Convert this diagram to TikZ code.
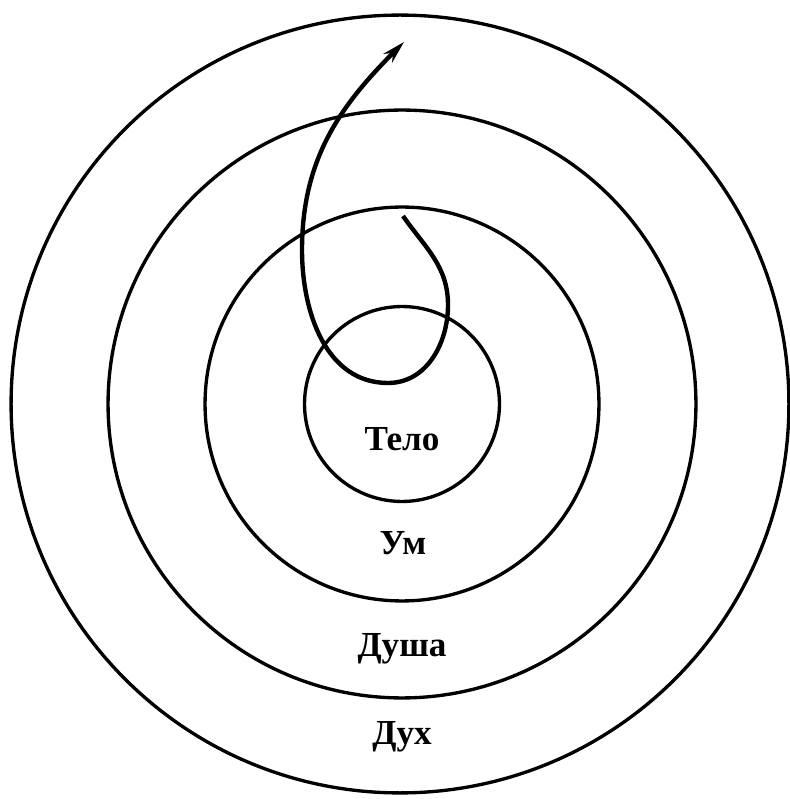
\documentclass[tikz,border=0pt]{standalone}
\usepackage{fontspec}
\setmainfont{Liberation Serif}
\usetikzlibrary{arrows.meta}

\begin{document}
\begin{tikzpicture}[
  x=0.02cm,y=0.02cm,
  ring/.style={draw=black,circle,line width=1.9pt,inner sep=0pt},
  layer/.style={font=\fontsize{20}{24}\selectfont\bfseries,inner sep=0pt,anchor=base},
  spiral/.style={line width=2.5pt,-{Stealth[length=13pt,width=7pt]}}
]
  \useasboundingbox (0,0) rectangle (790,799);
  \coordinate (centre) at (402,395);

  \node[ring,minimum size=3.9cm] (body) at (centre) {};
  \node[ring,minimum size=7.88cm] (mind) at (centre) {};
  \node[ring,minimum size=11.76cm] (soul) at (centre) {};
  \node[ring,minimum size=15.56cm] (spirit) at (400,395) {};

  \node[layer] (bodylabel) at (402,348) {Тело};
  \node[layer] (mindlabel) at (403,244) {Ум};
  \node[layer] (soullabel) at (402,142) {Душа};
  \node[layer] (spiritlabel) at (402,54) {Дух};

  % spiral: from the mind ring round the body and out past the soul ring
  \coordinate (start) at (403,583);
  \coordinate (tip) at (404,757);
  \draw[spiral] (start) to[out=-55,in=90] (448,494) to[out=-90,in=0] (388,416)
    to[out=180,in=-90] (302,549) to[out=90,in=225] (tip);
\end{tikzpicture}
\end{document}
